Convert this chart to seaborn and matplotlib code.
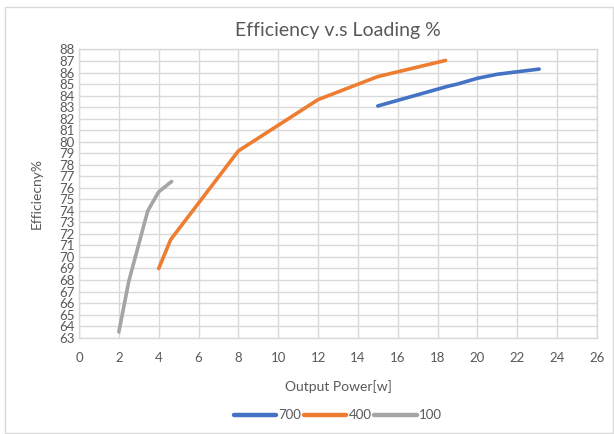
import matplotlib
matplotlib.use("Agg")
import matplotlib.pyplot as plt
import seaborn as sns
import pandas as pd
from matplotlib.patches import Rectangle

# Data
power_700 = [15.0, 18.5, 19.0, 20.0, 21.0, 23.1]
eff_700 = [83.1, 84.8, 85.0, 85.5, 85.85, 86.3]

power_400 = [4.0, 4.6, 8.0, 12.0, 15.0, 18.4]
eff_400 = [69.0, 71.5, 79.2, 83.65, 85.65, 87.05]

power_100 = [2.0, 2.5, 3.45, 4.0, 4.65]
eff_100 = [63.5, 67.9, 74.0, 75.65, 76.55]

series_names = ["700", "400", "100"]
colors = ["#4472C4", "#ED7D31", "#A5A5A5"]

frames = []
for name, xs, ys in zip(series_names,
                        [power_700, power_400, power_100],
                        [eff_700, eff_400, eff_100]):
    frames.append(pd.DataFrame({"power": xs, "eff": ys, "series": name}))
df = pd.concat(frames, ignore_index=True)

sns.set_theme(style="white")
plt.rcParams['font.family'] = ['Lato', 'DejaVu Sans']
text_color = "#595959"

fig = plt.figure(figsize=(6.14, 4.34), dpi=100)
ax = fig.add_axes([0.1287, 0.222, 0.8435, 0.664])

# chart border like Excel
fig.patches.append(Rectangle((0.008, 0.002), 0.99, 0.982, transform=fig.transFigure,
                             fill=False, edgecolor="#D9D9D9", linewidth=1))

sns.lineplot(data=df, x="power", y="eff", hue="series", hue_order=series_names,
             palette=colors, sort=False, estimator=None, linewidth=2.6,
             solid_capstyle="round", ax=ax)

ax.set_xlim(0, 26)
ax.set_ylim(63, 88)
ax.set_xticks(range(0, 27, 2))
ax.set_yticks(range(63, 89, 1))
ax.grid(True, color="#D9D9D9", linewidth=1)
ax.set_axisbelow(True)
for s in ax.spines.values():
    s.set_color("#D9D9D9")
    s.set_linewidth(1)

ax.tick_params(axis="both", length=0, labelsize=9.5, colors=text_color)
ax.tick_params(axis="x", pad=10)
ax.tick_params(axis="y", pad=3)
ax.set_xlabel("Output Power[w]", fontsize=10, color=text_color, labelpad=12)
ax.set_ylabel("Efficiecny%", fontsize=10, color=text_color, labelpad=12)
ax.set_title("Efficiency v.s Loading %", fontsize=14, color=text_color, pad=10)

handles, labels = ax.get_legend_handles_labels()
for h in handles:
    h.set_linewidth(3.2)
ax.legend(handles, labels, loc="center", bbox_to_anchor=(0.5, -0.27),
          ncol=3, frameon=False, fontsize=9.5, handlelength=3.2,
          handletextpad=0.2, columnspacing=0.2, labelcolor=text_color)

fig.savefig("out.png", dpi=100)
